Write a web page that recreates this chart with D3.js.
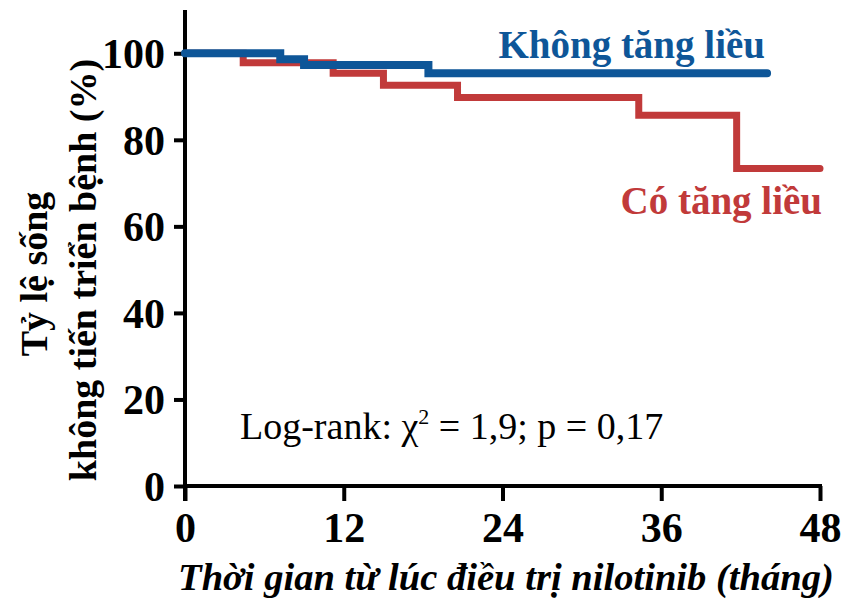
<!DOCTYPE html>
<html>
<head>
<meta charset="utf-8">
<script src="https://cdn.jsdelivr.net/npm/d3@7"></script>
<style>
  body { margin: 0; background: #fff; }
  text { font-family: "Liberation Serif", "Times New Roman", serif; }
</style>
</head>
<body>
<div id="chartContainer"></div>
<script>
// Kaplan-Meier steps (months, % progression-free)
const noEscTime = [0, 7.2, 9.0, 18.4, 44.0];
const noEscSurv = [100, 98.6, 97.3, 95.4, 95.4];
const escTime = [0, 4.4, 11.2, 15.0, 20.6, 34.3, 41.7, 48.0];
const escSurv = [100, 97.8, 95.4, 92.6, 89.8, 85.7, 73.4, 73.4];

const xTicks = [0, 12, 24, 36, 48];
const yTicks = [0, 20, 40, 60, 80, 100];

const seriesNames = ["Không tăng liều", "Có tăng liều"];
const xTitle = "Thời gian từ lúc điều trị nilotinib (tháng)";
const yTitle = ["Tỷ lệ sống", "không tiến triển bệnh (%)"];

// chart dimensions
const width = 846;
const height = 604;
const marginLeft = 185;
const marginRight = 26;
const marginTop = 10;
const marginBottom = 118;

const blue = "#0e5698";
const red = "#c13a3a";

const x = d3.scaleLinear().domain([0, 48]).range([marginLeft, width - marginRight]);
const y = d3.scaleLinear().domain([0, 110]).range([height - marginBottom, marginTop]);

const line = d3.line()
    .x(d => x(d[0]))
    .y(d => y(d[1]))
    .curve(d3.curveStepAfter);

const svg = d3.create("svg")
    .attr("width", width)
    .attr("height", height)
    .attr("viewBox", [0, 0, width, height]);

// x-axis
const xAxis = svg.append("g")
    .attr("transform", `translate(0,${y(0)})`)
    .call(d3.axisBottom(x).tickValues(xTicks).tickSize(15).tickSizeOuter(0));
xAxis.select(".domain").attr("stroke-width", 4).attr("d", `M${x(0) - 2},0H${x(48) + 2}`);
xAxis.selectAll(".tick line").attr("stroke-width", 4);
xAxis.selectAll(".tick text")
    .attr("y", 26)
    .attr("font-size", 42)
    .attr("font-weight", "bold")
    .attr("fill", "#000");

// y-axis
const yAxis = svg.append("g")
    .attr("transform", `translate(${marginLeft},0)`)
    .call(d3.axisLeft(y).tickValues(yTicks).tickSize(11).tickSizeOuter(0));
yAxis.select(".domain").attr("stroke-width", 4).attr("d", `M0,${y(110)}V${y(0) + 15}`);
yAxis.selectAll(".tick line").attr("stroke-width", 4);
yAxis.selectAll(".tick text")
    .attr("x", -20)
    .attr("dy", "0.34em")
    .attr("font-size", 42)
    .attr("font-weight", "bold")
    .attr("fill", "#000");

// survival curves
svg.append("path")
    .attr("d", line(d3.zip(escTime, escSurv)))
    .attr("fill", "none")
    .attr("stroke", red)
    .attr("stroke-width", 7)
    .attr("stroke-linecap", "round");

svg.append("path")
    .attr("d", line(d3.zip(noEscTime, noEscSurv)))
    .attr("fill", "none")
    .attr("stroke", blue)
    .attr("stroke-width", 8)
    .attr("stroke-linecap", "round");

// series labels
svg.append("text")
    .attr("x", 765).attr("y", 58)
    .attr("text-anchor", "end")
    .attr("font-size", 39).attr("font-weight", "bold")
    .attr("fill", blue)
    .text(seriesNames[0]);

svg.append("text")
    .attr("x", 822).attr("y", 214)
    .attr("text-anchor", "end")
    .attr("font-size", 39).attr("font-weight", "bold")
    .attr("fill", red)
    .text(seriesNames[1]);

// log-rank annotation
const lr = svg.append("text")
    .attr("x", 240).attr("y", 439)
    .attr("font-size", 38)
    .attr("fill", "#000");
lr.append("tspan").text("Log-rank: χ");
lr.append("tspan").attr("font-size", 22).attr("dy", -15).text("2");
lr.append("tspan").attr("dy", 15).text(" = 1,9; p = 0,17");

// axis titles
svg.append("text")
    .attr("x", 506).attr("y", 590)
    .attr("text-anchor", "middle")
    .attr("font-size", 38.6).attr("font-weight", "bold").attr("font-style", "italic")
    .text(xTitle);

svg.append("text")
    .attr("transform", "translate(47,274) rotate(-90)")
    .attr("text-anchor", "middle")
    .attr("font-size", 38).attr("font-weight", "bold")
    .text(yTitle[0]);

svg.append("text")
    .attr("transform", "translate(96,270) rotate(-90)")
    .attr("text-anchor", "middle")
    .attr("font-size", 38).attr("font-weight", "bold")
    .text(yTitle[1]);

document.getElementById("chartContainer").appendChild(svg.node());
</script>
</body>
</html>
